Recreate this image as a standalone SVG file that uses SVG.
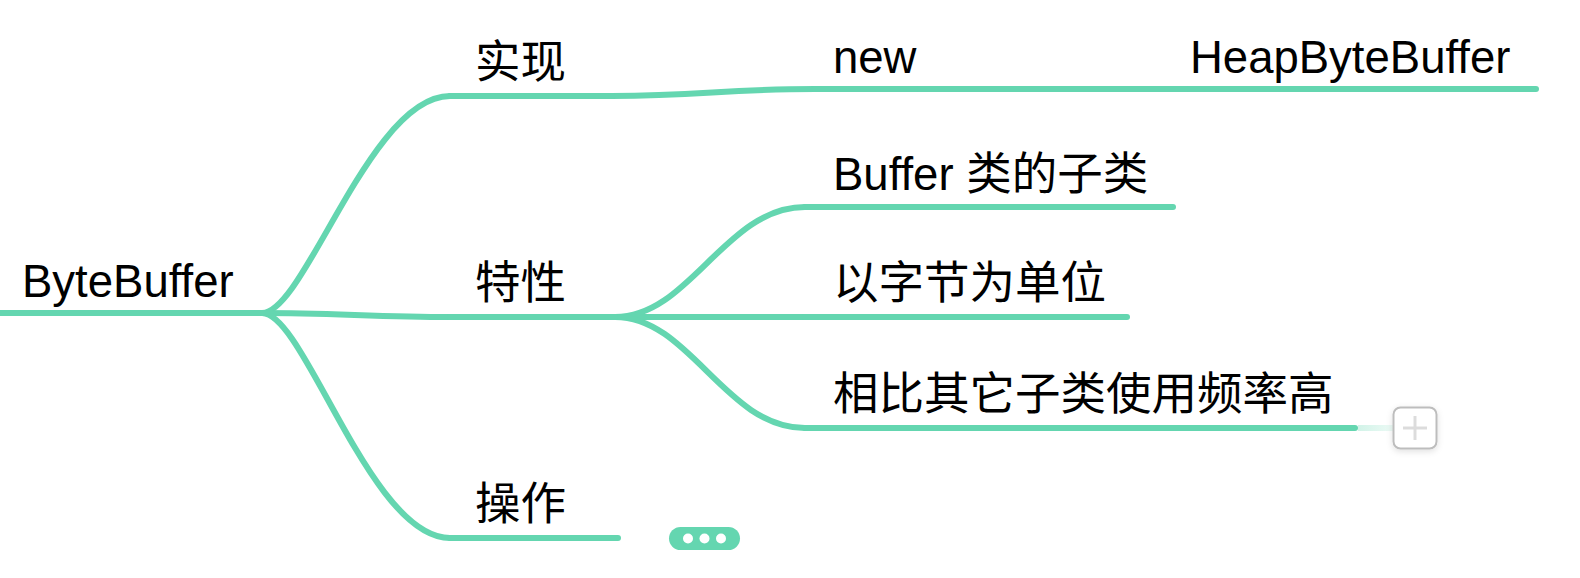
<svg xmlns="http://www.w3.org/2000/svg" width="1580" height="578" viewBox="0 0 1580 578">
  <style>
    .t { font-family: "Liberation Sans", "Noto Sans CJK SC", sans-serif; font-size: 45.5px; fill: #000; }
    .ln { fill: none; stroke: #64d6b0; stroke-width: 6; stroke-linecap: round; }
  </style>
  <defs>
    <linearGradient id="fade" gradientUnits="userSpaceOnUse" x1="1356" y1="0" x2="1394" y2="0">
      <stop offset="0" stop-color="#64d6b0" stop-opacity="0.3"/>
      <stop offset="1" stop-color="#64d6b0" stop-opacity="0.12"/>
    </linearGradient>
    <filter id="sh" x="-30%" y="-30%" width="160%" height="160%">
      <feDropShadow dx="0" dy="2" stdDeviation="3" flood-color="#000" flood-opacity="0.12"/>
    </filter>
  </defs>
  <rect width="1580" height="578" fill="#fff"/>

  <g id="connectors">
    <path class="ln" d="M262,313 C305,313 370,96 450,96"/>
    <path class="ln" d="M262,313 C330,313 380,317 450,317"/>
    <path class="ln" d="M262,313 C305,313 370,538 450,538"/>
    <path class="ln" d="M612,96 C700,96 725,89 815,89"/>
    <path class="ln" d="M915,89 L1190,89"/>
    <path class="ln" d="M615,317 C690,317 725,207 805,207"/>
    <path class="ln" d="M615,317 L805,317"/>
    <path class="ln" d="M615,317 C690,317 725,428 805,428"/>
  </g>

  <g id="node-root">
    <line class="ln" x1="0" y1="313" x2="262" y2="313"/>
    <text class="t" x="22" y="297">ByteBuffer</text>
  </g>
  <g id="node-shixian">
    <line class="ln" x1="450" y1="96" x2="612" y2="96"/>
    <text class="t" x="475" y="78">实现</text>
  </g>
  <g id="node-new">
    <line class="ln" x1="815" y1="89" x2="915" y2="89"/>
    <text class="t" x="833" y="73">new</text>
  </g>
  <g id="node-heap">
    <line class="ln" x1="1190" y1="89" x2="1536" y2="89"/>
    <text class="t" x="1190" y="73">HeapByteBuffer</text>
  </g>
  <g id="node-texing">
    <line class="ln" x1="450" y1="317" x2="615" y2="317"/>
    <text class="t" x="475" y="299">特性</text>
  </g>
  <g id="node-buffer-sub">
    <line class="ln" x1="805" y1="207" x2="1173" y2="207"/>
    <text class="t" x="833" y="190">Buffer 类的子类</text>
  </g>
  <g id="node-byte-unit">
    <line class="ln" x1="805" y1="317" x2="1127" y2="317"/>
    <text class="t" x="833" y="299">以字节为单位</text>
  </g>
  <g id="node-freq">
    <line class="ln" x1="805" y1="428" x2="1355" y2="428"/>
    <text class="t" x="833" y="410">相比其它子类使用频率高</text>
    <line x1="1358" y1="428" x2="1394" y2="428" stroke="url(#fade)" stroke-width="6"/>
    <g id="add-button" filter="url(#sh)">
      <rect x="1393.5" y="407.5" width="43" height="41" rx="7" fill="#fff" stroke="#bdbdbd" stroke-width="2"/>
    </g>
    <line x1="1415" y1="416" x2="1415" y2="440" stroke="#dcdcdc" stroke-width="3"/>
    <line x1="1403" y1="428" x2="1427" y2="428" stroke="#dcdcdc" stroke-width="3"/>
  </g>
  <g id="node-caozuo">
    <line class="ln" x1="450" y1="538" x2="618" y2="538"/>
    <text class="t" x="475" y="520">操作</text>
    <g id="collapsed-more">
      <rect x="669" y="527" width="71" height="23" rx="11.5" fill="#64d6b0"/>
      <circle cx="688" cy="538.5" r="5" fill="#fff"/>
      <circle cx="704.5" cy="538.5" r="5" fill="#fff"/>
      <circle cx="721" cy="538.5" r="5" fill="#fff"/>
    </g>
  </g>
</svg>
